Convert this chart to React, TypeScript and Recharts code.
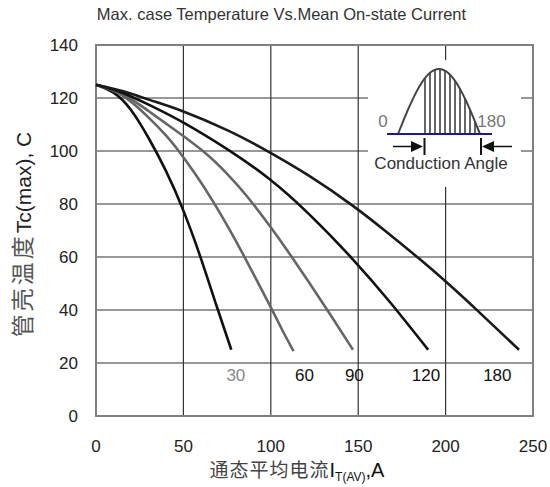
import { CartesianGrid, Line, LineChart, ReferenceArea, ReferenceDot, XAxis, YAxis } from "recharts"

const CURRENT_TICKS = [0, 50, 100, 150, 200, 250]
const TEMP_TICKS = [0, 20, 40, 60, 80, 100, 120, 140]

// mean on-state current (A) vs max case temperature (C), one pair per conduction angle
const I_30 = [0, 10, 20, 30, 40, 50, 60, 69, 77.4]
const TC_30 = [125, 122, 115.5, 105, 92.5, 77.5, 59.5, 41.5, 25]

const I_60 = [0, 15, 30, 40, 47, 57, 67, 76, 84, 92, 100.3, 107, 113]
const TC_60 = [125, 121, 112.7, 105.9, 100.3, 91.1, 80.9, 70.8, 61.2, 51.2, 40.6, 31.9, 24.5]

const I_90 = [0, 15, 30, 45, 62, 75, 86, 101, 112, 122, 134, 147]
const TC_90 = [125, 121.5, 115.1, 108, 99.5, 91.4, 83.2, 70.3, 60, 50.3, 38.3, 25]

const I_120 = [0, 15, 31, 50, 75, 99, 122, 146, 168, 190]
const TC_120 = [125, 122, 117.2, 110.7, 100.7, 89.5, 76.1, 59.8, 43.1, 25]

const I_180 = [0, 15, 31, 50, 75, 95.5, 122, 147, 165, 185, 202, 219, 242]
const TC_180 = [125, 122.6, 119.2, 114.9, 107.9, 100.9, 90.6, 79.3, 70.1, 59.3, 49.6, 39.3, 25]

const ANGLE_LABELS = ["30", "60", "90", "120", "180"]
const ANGLE_LABEL_I = [80, 119.3, 147.8, 188.8, 229.6]
const ANGLE_LABEL_TC = 15.5

const toPoints = (xs: number[], ys: number[]) => xs.map((x, i) => ({ x, y: ys[i] }))

const SERIES = [
  { key: "30", data: toPoints(I_30, TC_30), color: "#111" },
  { key: "60", data: toPoints(I_60, TC_60), color: "#666" },
  { key: "90", data: toPoints(I_90, TC_90), color: "#666" },
  { key: "120", data: toPoints(I_120, TC_120), color: "#111" },
  { key: "180", data: toPoints(I_180, TC_180), color: "#1a1a1a" },
]

const LABEL_COLORS = ["#888", "#111", "#111", "#111", "#111"]

const SANS = "'Liberation Sans', Arial, sans-serif"
const CJK = "'Noto Sans CJK SC', sans-serif"

function XTick({ x, payload }: { x?: number; payload?: { value: number } }) {
  return (
    <text x={x} y={452} textAnchor="middle" fontSize={17} fontFamily={SANS} fill="#222">
      {payload?.value}
    </text>
  )
}

function YTick({ y, payload }: { y?: number; payload?: { value: number } }) {
  return (
    <text x={78} y={(y ?? 0) + 6} textAnchor="end" fontSize={17} fontFamily={SANS} fill="#222">
      {payload?.value}
    </text>
  )
}

// conduction angle sketch in the upper right corner
function Inset() {
  const x0 = 398
  const x1 = 480
  const base = 134
  const amp = 65
  const top = (x: number) => base - amp * Math.sin((Math.PI * (x - x0)) / (x1 - x0))
  const pts: string[] = []
  for (let x = x0; x <= x1; x += 2) pts.push(`${x},${top(x).toFixed(1)}`)
  const hatch: number[] = []
  for (let x = 425; x < x1; x += 5) hatch.push(x)

  return (
    <g>
      <rect x={368} y={60} width={153} height={127} fill="#fff" />
      {hatch.map((x) => (
        <line key={x} x1={x} x2={x} y1={base} y2={top(x)} stroke="#333" strokeWidth={1.5} />
      ))}
      <polyline points={pts.join(" ")} fill="none" stroke="#444" strokeWidth={2} />
      <line x1={387} x2={492} y1={base} y2={base} stroke="#1a1a8c" strokeWidth={2} />
      <line x1={393} x2={412} y1={146.5} y2={146.5} stroke="#111" strokeWidth={1.5} />
      <polygon points="411,141 423,146.5 411,152" fill="#111" />
      <line x1={424.5} x2={424.5} y1={138} y2={155} stroke="#111" strokeWidth={2} />
      <line x1={481} x2={481} y1={138} y2={155} stroke="#111" strokeWidth={2} />
      <polygon points="482,146.5 494,141 494,152" fill="#111" />
      <line x1={494} x2={512} y1={146.5} y2={146.5} stroke="#111" strokeWidth={1.5} />
      <text x={383} y={127} textAnchor="middle" fontSize={17} fontFamily={SANS} fill="#777">0</text>
      <text x={491.5} y={127} textAnchor="middle" fontSize={17} fontFamily={SANS} fill="#777">180</text>
      <text x={441} y={169} textAnchor="middle" fontSize={17} fontFamily={SANS} fill="#333">
        Conduction Angle
      </text>
    </g>
  )
}

export default function App() {
  return (
    <div style={{ position: "absolute", left: 0, top: 0, width: 550, height: 487, background: "#fff" }}>
      <LineChart width={550} height={487} margin={{ top: 45, right: 17, bottom: 0, left: 0 }}>
        <CartesianGrid stroke="#333" strokeWidth={1.2} horizontalValues={TEMP_TICKS} verticalValues={CURRENT_TICKS} />
        <XAxis
          dataKey="x"
          type="number"
          domain={[0, 250]}
          ticks={CURRENT_TICKS}
          height={71}
          axisLine={false}
          tickLine={false}
          tick={<XTick />}
        />
        <YAxis
          type="number"
          domain={[0, 140]}
          ticks={TEMP_TICKS}
          width={96}
          axisLine={false}
          tickLine={false}
          tick={<YTick />}
        />
        <ReferenceArea x1={0} x2={250} y1={0} y2={140} fill="none" stroke="#808080" strokeWidth={2} fillOpacity={0} />
        {SERIES.map((s) => (
          <Line
            key={s.key}
            data={s.data}
            dataKey="y"
            type="natural"
            stroke={s.color}
            strokeWidth={2.6}
            dot={false}
            activeDot={false}
            isAnimationActive={false}
          />
        ))}
        {ANGLE_LABELS.map((t, i) => (
          <ReferenceDot
            key={t}
            x={ANGLE_LABEL_I[i]}
            y={ANGLE_LABEL_TC}
            r={1}
            fill="none"
            stroke="none"
            label={{ value: t, position: "center", fill: LABEL_COLORS[i], fontSize: 17, fontFamily: SANS }}
          />
        ))}
      </LineChart>
      <svg width={550} height={487} style={{ position: "absolute", left: 0, top: 0, pointerEvents: "none" }}>
        <Inset />
        <text x={281.5} y={20} textAnchor="middle" fontSize={16.5} fontFamily={SANS} fill="#333">
          Max. case Temperature Vs.Mean On-state Current
        </text>
        <text x={297} y={477} textAnchor="middle" fontFamily={SANS} fill="#111">
          <tspan fontFamily={CJK} fontSize={19} letterSpacing={1} fill="#444">
            通态平均电流
          </tspan>
          <tspan fontSize={20}>I</tspan>
          <tspan fontSize={12} dy={4}>
            T(AV)
          </tspan>
          <tspan fontSize={20} dy={-4}>
            ,A
          </tspan>
        </text>
        <text transform="translate(31 234.5) rotate(-90)" textAnchor="middle" fontFamily={SANS} fill="#222">
          <tspan fontFamily={CJK} fontSize={23} letterSpacing={3} fill="#555">
            管壳温度
          </tspan>
          <tspan fontSize={21}>Tc(max), C</tspan>
        </text>
      </svg>
    </div>
  )
}
